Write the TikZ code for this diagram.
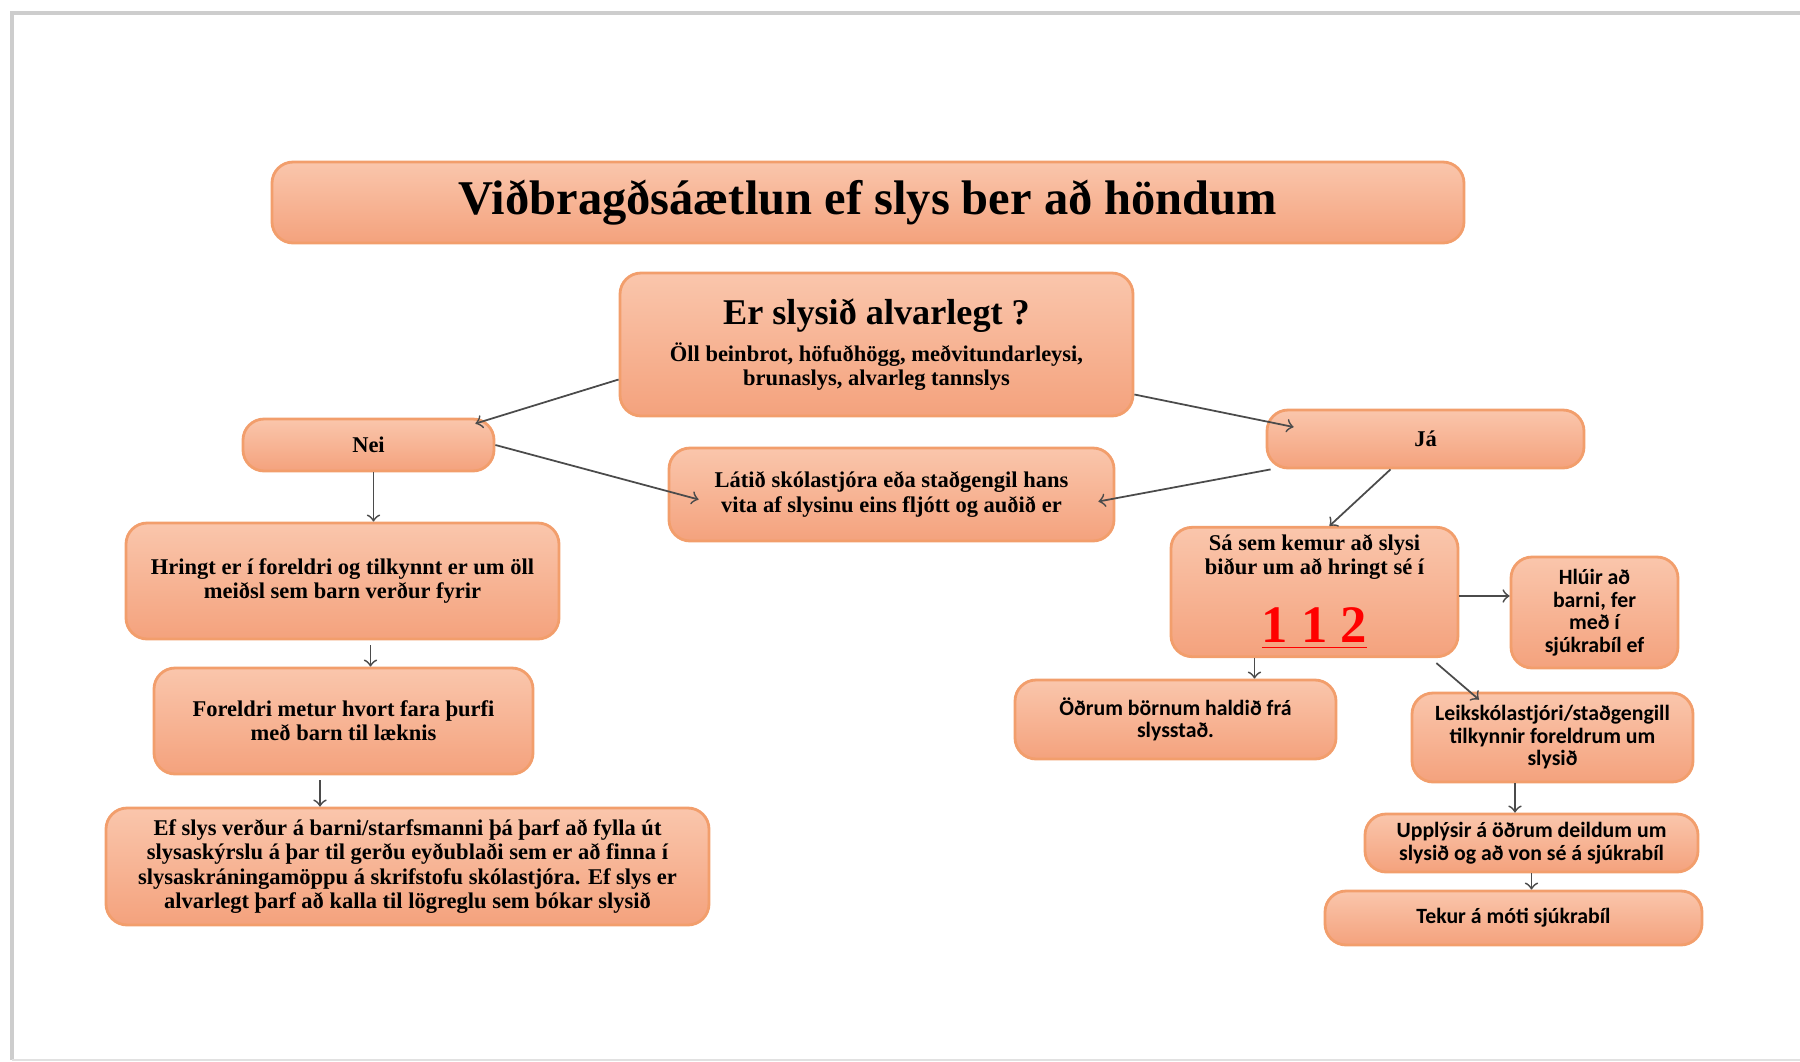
\documentclass[tikz,border=0pt]{standalone}
\usepackage{fontspec}
\setmainfont{Liberation Serif}
\newfontfamily\calibri{Carlito}
\usetikzlibrary{calc}

\definecolor{boxtop}{RGB}{250,198,172}
\definecolor{boxbot}{RGB}{244,162,125}
\definecolor{boxline}{RGB}{242,158,108}
\definecolor{arrowgrey}{RGB}{75,75,75}
\definecolor{framegrey}{RGB}{205,205,205}

\tikzset{
  box/.style={rounded corners=6pt, draw=boxline, line width=0.8pt,
    top color=boxtop, bottom color=boxbot, align=center, inner sep=2pt,
    font=\fontsize{6.4}{6.9}\selectfont\bfseries},
  sbox/.style={box, font=\fontsize{6.2}{6.4}\selectfont\calibri\bfseries},
  arr/.style={->, draw=arrowgrey, line width=0.5pt},
}

\begin{document}
\begin{tikzpicture}
  \useasboundingbox (0,0) rectangle (18,-10.62);
  \draw[framegrey, line width=1.2pt] (0.12,-10.6) -- (0.12,-0.13) -- (18,-0.13);
  \draw[framegrey!60, line width=0.8pt] (0.12,-10.6) -- (18,-10.6);

  % title and question
  \node[box, minimum width=11.92cm, minimum height=0.81cm,
    font=\fontsize{13.8}{15}\selectfont\bfseries] (title) at (8.68,-2.025)
    {Viðbragðsáætlun ef slys ber að höndum};
  \node[box, minimum width=5.13cm, minimum height=1.43cm] (q) at (8.765,-3.445)
    {{\fontsize{10.3}{11}\selectfont Er slysið alvarlegt ?}\\[2pt]
     Öll beinbrot, höfuðhögg, meðvitundarleysi,\\ brunaslys, alvarleg tannslys};

  % no
  \node[box, minimum width=2.51cm, minimum height=0.52cm] (nei) at (3.685,-4.45) {Nei};
  \node[box, minimum width=4.33cm, minimum height=1.16cm] (hringt) at (3.425,-5.81)
    {Hringt er í foreldri og tilkynnt er um öll\\ meiðsl sem barn verður fyrir};
  \node[box, minimum width=3.79cm, minimum height=1.06cm] (foreldri) at (3.435,-7.21)
    {Foreldri metur hvort fara þurfi\\ með barn til læknis};
  \node[box, minimum width=6.03cm, minimum height=1.17cm] (ef) at (4.075,-8.665)
    {Ef slys verður á barni/starfsmanni þá þarf að fylla út\\
     slysaskýrslu á þar til gerðu eyðublaði sem er að finna í\\
     slysaskráningamöppu á skrifstofu skólastjóra. Ef slys er\\
     alvarlegt þarf að kalla til lögreglu sem bókar slysið};

  \node[box, minimum width=4.45cm, minimum height=0.93cm] (latid) at (8.915,-4.945)
    {Látið skólastjóra eða staðgengil hans\\ vita af slysinu eins fljótt og auðið er};

  % yes
  \node[box, minimum width=3.17cm, minimum height=0.58cm] (ja) at (14.255,-4.39) {Já};
  \node[box, minimum width=2.87cm, minimum height=1.26cm] (sa) at (13.145,-5.92)
    {Sá sem kemur að slysi\\ biður um að hringt sé í\\[7pt]
     {\color{red}\fontsize{15}{16}\selectfont\underline{1 1 2}}};
  \node[sbox, minimum width=1.67cm, minimum height=1.11cm] (hlui) at (15.945,-6.125)
    {Hlúir að\\ barni, fer\\ með í\\ sjúkrabíl ef};
  \node[sbox, minimum width=3.21cm, minimum height=0.79cm] (odrum) at (11.755,-7.195)
    {Öðrum börnum haldið frá\\ slysstað.};
  \node[sbox, minimum width=2.81cm, minimum height=0.89cm] (leik) at (15.525,-7.375)
    {Leikskólastjóri/staðgengill\\ tilkynnir foreldrum um\\ slysið};
  \node[sbox, minimum width=3.33cm, minimum height=0.58cm] (upp) at (15.315,-8.43)
    {Upplýsir á öðrum deildum um\\ slysið og að von sé á sjúkrabíl};
  \node[sbox, minimum width=3.77cm, minimum height=0.54cm] (tekur) at (15.135,-9.18)
    {Tekur á móti sjúkrabíl};

  % connectors
  \draw[arr] ([yshift=-0.35cm]q.west) -- ([xshift=-0.2cm,yshift=-0.06cm]nei.north east);
  \draw[arr] ([yshift=-0.5cm]q.east) -- ([xshift=0.28cm,yshift=0.12cm]ja.west);
  \draw[arr] (nei.east) -- ([xshift=0.31cm,yshift=-0.05cm]latid.west);
  \draw[arr] ([xshift=0.05cm]ja.south west) -- ([xshift=-0.17cm,yshift=-0.07cm]latid.east);
  \draw[arr] ([xshift=-0.35cm]ja.south) -- ([xshift=0.15cm]sa.north);
  \draw[arr] ($(nei.south)+(0.05,0)$) -- ($(nei.south |- hringt.north)+(0.05,0)$);
  \draw[arr] ($(hringt.south)+(0.28,-0.05)$) -- ($(hringt.south |- foreldri.north)+(0.28,0)$);
  \draw[arr] ($(foreldri.south)+(-0.235,-0.05)$) -- ($(foreldri.south |- ef.north)+(-0.235,0)$);
  \draw[arr] ([yshift=-0.04cm]sa.east) -- ([yshift=-0.04cm]sa.east -| hlui.west);
  \draw[arr] ($(sa.south)+(-0.6,0)$) -- ($(sa.south |- odrum.north)+(-0.6,0)$);
  \draw[arr] ([xshift=-0.23cm,yshift=-0.05cm]sa.south east) -- ([xshift=-0.735cm,yshift=-0.08cm]leik.north);
  \draw[arr] ($(leik.south)+(-0.375,0)$) -- ($(leik.south |- upp.north)+(-0.375,0)$);
  \draw[arr] (upp.south) -- (upp.south |- tekur.north);
\end{tikzpicture}
\end{document}
